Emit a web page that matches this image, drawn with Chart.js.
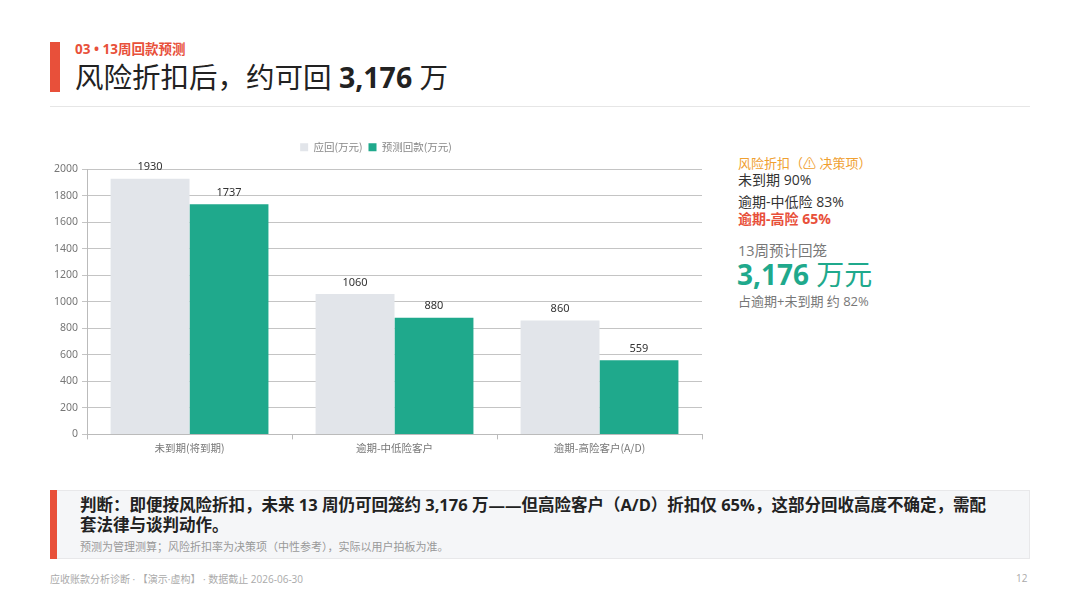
<!DOCTYPE html>
<html><head><meta charset="utf-8">
<script src="https://cdn.jsdelivr.net/npm/chart.js@4"></script>
<style>
html,body{margin:0;padding:0;background:#fff;}
body{width:1080px;height:608px;position:relative;overflow:hidden;font-family:"Open Sans","Noto Sans CJK SC",sans-serif;color:#222;}
.abs{position:absolute;white-space:nowrap;}
</style></head><body>
<div class="abs" style="left:50px;top:42px;width:10px;height:50px;background:#E8503A;"></div>
<div class="abs" style="left:75px;top:38px;font-size:13.5px;font-weight:700;color:#E8503A;">03 • 13周回款预测</div>
<div class="abs" style="left:75px;top:55px;font-size:28.5px;color:#222;">风险折扣后，约可回 <b>3,176</b> 万</div>
<div class="abs" style="left:50px;top:106px;width:980px;height:1px;background:#e6e6e6;"></div>

<div class="abs" style="left:50px;top:136px;width:666px;height:320px;"><canvas id="c"></canvas></div>

<div class="abs" style="left:738px;top:153px;font-size:13px;color:#F0A030;">风险折扣（⚠ 决策项）</div>
<div class="abs" style="left:738px;top:169px;font-size:14px;color:#333;">未到期 90%</div>
<div class="abs" style="left:738px;top:191px;font-size:14px;color:#333;">逾期-中低险 83%</div>
<div class="abs" style="left:738px;top:208px;font-size:14px;color:#E8503A;font-weight:700;">逾期-高险 65%</div>
<div class="abs" style="left:738px;top:239px;font-size:14.5px;color:#777;">13周预计回笼</div>
<div class="abs" style="left:737px;top:253px;font-size:28px;color:#1FA98C;"><b>3,176</b> 万元</div>
<div class="abs" style="left:738px;top:291px;font-size:13px;color:#777;">占逾期+未到期 约 82%</div>

<div class="abs" style="left:50px;top:490px;width:980px;height:69px;background:#F5F6F8;border:1px solid #e8e8ea;box-sizing:border-box;"></div>
<div class="abs" style="left:50px;top:490px;width:7px;height:69px;background:#E8503A;"></div>
<div class="abs" style="left:80px;top:495px;font-size:16.5px;font-weight:700;color:#222;line-height:20px;white-space:normal;width:912px;">判断：即便按风险折扣，未来 13 周仍可回笼约 3,176 万——但高险客户（A/D）折扣仅 65%，这部分回收高度不确定，需配套法律与谈判动作。</div>
<div class="abs" style="left:80px;top:538px;font-size:11px;color:#999;">预测为管理测算；风险折扣率为决策项（中性参考），实际以用户拍板为准。</div>

<div class="abs" style="left:50px;top:571px;font-size:10px;color:#aaa;">应收账款分析诊断 · 【演示·虚构】 · 数据截止 2026-06-30</div>
<div class="abs" style="left:1016px;top:571px;font-size:10px;color:#aaa;">12</div>

<script>
const categories = ["未到期(将到期)", "逾期-中低险客户", "逾期-高险客户(A/D)"];
const dueValues = [1930, 1060, 860];
const forecastValues = [1737, 880, 559];
const seriesNames = ["应回(万元)", "预测回款(万元)"];

const labelPlugin = {
  id: 'barLabels',
  beforeInit(chart) {
    if (chart.legend) {
      const f = chart.legend.fit;
      chart.legend.fit = function () { f.call(this); this.height += 7; };
    }
  },
  afterDatasetsDraw(chart) {
    const ctx = chart.ctx;
    ctx.save();
    ctx.font = '11px "Noto Sans", "Noto Sans CJK SC", sans-serif';
    ctx.fillStyle = '#333';
    ctx.textAlign = 'center';
    ctx.textBaseline = 'bottom';
    chart.data.datasets.forEach((ds, i) => {
      chart.getDatasetMeta(i).data.forEach((bar, j) => {
        ctx.fillText(String(ds.data[j]), bar.x, bar.y - 6);
      });
    });
    ctx.restore();
  }
};

Chart.defaults.font.family = '"Noto Sans", "Noto Sans CJK SC", sans-serif';
new Chart(document.getElementById('c'), {
  type: 'bar',
  data: {
    labels: categories,
    datasets: [
      { label: seriesNames[0], data: dueValues, backgroundColor: '#E2E5EA', categoryPercentage: 0.77, barPercentage: 1.0 },
      { label: seriesNames[1], data: forecastValues, backgroundColor: '#1FA98C', categoryPercentage: 0.77, barPercentage: 1.0 }
    ]
  },
  options: {
    responsive: true,
    maintainAspectRatio: false,
    animation: false,
    layout: { padding: { right: 14, top: 0 } },
    plugins: {
      legend: {
        position: 'top',
        labels: { boxWidth: 8, boxHeight: 8, padding: 6, color: '#888', font: { size: 10.5, family: '"Noto Sans CJK SC", sans-serif' } }
      },
      tooltip: { enabled: false }
    },
    scales: {
      x: {
        grid: { offset: true, drawOnChartArea: false, drawTicks: true, tickLength: 5, color: '#bbb' },
        border: { color: '#bbb' },
        ticks: { color: '#777', font: { size: 10.5, family: '"Noto Sans CJK SC", sans-serif' }, padding: 2 }
      },
      y: {
        min: 0, max: 2000,
        ticks: { stepSize: 200, color: '#777', font: { size: 10.5 }, padding: 4, callback: v => String(v) },
        grid: { color: '#c4c4c4', tickLength: 5 },
        border: { color: '#bbb' }
      }
    }
  },
  plugins: [labelPlugin]
});
</script>
</body></html>
